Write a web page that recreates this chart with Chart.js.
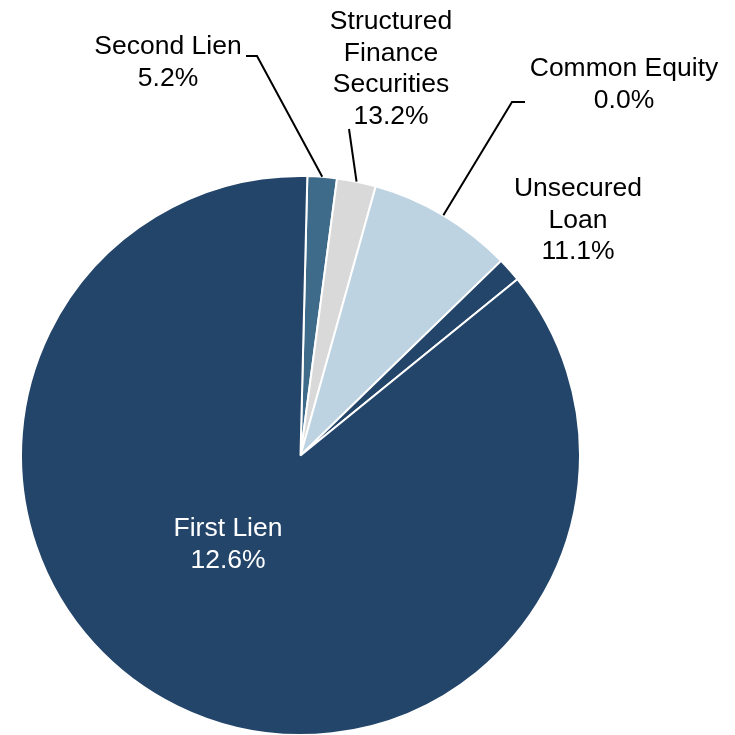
<!DOCTYPE html>
<html>
<head>
<meta charset="utf-8">
<script src="https://cdn.jsdelivr.net/npm/chart.js@4/dist/chart.umd.min.js"></script>
<style>
  html, body { margin: 0; padding: 0; background: #fff; overflow: hidden; }
  #wrap { width: 735px; height: 740px; position: relative; }
</style>
</head>
<body>
<div id="wrap"><canvas id="grafica"></canvas></div>
<script>
// ===============================
// DATOS
// ===============================
const categorias = ["Second Lien", "Structured Finance Securities", "Common Equity", "Unsecured Loan", "First Lien"];
const pesos = [1.7, 2.25, 8.4, 1.4, 86.25];          // % del portafolio (tamaño de cada rebanada)
const rendimientos = [5.2, 13.2, 0.0, 11.1, 12.6];   // % mostrado en cada etiqueta
const colores = ["#3e6b8a", "#d9d9d9", "#bdd3e2", "#24456a", "#24456a"];

// ===============================
// ETIQUETAS (posición del texto y codo de la línea guía)
// ===============================
const etiquetas = [
  { lineas: ["Second Lien"], x: 168, y: 47, color: "#000", guia: [[246, 56], [257, 56]] },
  { lineas: ["Structured", "Finance", "Securities"], x: 391, y: 22, color: "#000", guia: [[349, 129]] },
  { lineas: ["Common Equity"], x: 624, y: 69, color: "#000", guia: [[525, 102], [512, 102]] },
  { lineas: ["Unsecured", "Loan"], x: 578, y: 189, color: "#000", guia: null },
  { lineas: ["First Lien"], x: 228, y: 529, color: "#fff", guia: null }
];

const ALTO_LINEA = 31.5;

const pluginEtiquetas = {
  id: "etiquetas",
  afterDatasetsDraw(chart) {
    const ctx = chart.ctx;
    const arcos = chart.getDatasetMeta(0).data;
    ctx.save();
    ctx.font = "26.5px 'Liberation Sans', Arial, sans-serif";
    ctx.textAlign = "center";
    ctx.textBaseline = "middle";

    etiquetas.forEach((et, i) => {
      const arco = arcos[i];
      const p = arco.getProps(["x", "y", "startAngle", "endAngle", "outerRadius"], true);

      // línea guía: codo -> borde exterior de la rebanada en su ángulo medio
      if (et.guia) {
        const medio = (p.startAngle + p.endAngle) / 2;
        const bx = p.x + Math.cos(medio) * p.outerRadius;
        const by = p.y + Math.sin(medio) * p.outerRadius;
        ctx.beginPath();
        ctx.strokeStyle = "#000";
        ctx.lineWidth = 2;
        ctx.moveTo(et.guia[0][0], et.guia[0][1]);
        for (let k = 1; k < et.guia.length; k++) ctx.lineTo(et.guia[k][0], et.guia[k][1]);
        ctx.lineTo(bx, by);
        ctx.stroke();
      }

      const textos = et.lineas.concat([rendimientos[i].toFixed(1) + "%"]);
      ctx.fillStyle = et.color;
      textos.forEach((t, j) => {
        ctx.fillText(t, et.x, et.y + j * ALTO_LINEA);
      });
    });
    ctx.restore();
  }
};

// ===============================
// GRÁFICA
// ===============================
const ctx = document.getElementById("grafica").getContext("2d");

window.chart = new Chart(ctx, {
  type: "pie",
  data: {
    labels: categorias,
    datasets: [{
      data: pesos,
      backgroundColor: colores,
      borderColor: "#fff",
      borderWidth: 2
    }]
  },
  options: {
    responsive: true,
    maintainAspectRatio: false,
    animation: false,
    rotation: 1.4,
    layout: { padding: { top: 175, left: 19, right: 153, bottom: 4 } },
    plugins: {
      legend: { display: false },
      tooltip: { enabled: false }
    }
  },
  plugins: [pluginEtiquetas]
});
</script>
</body>
</html>
